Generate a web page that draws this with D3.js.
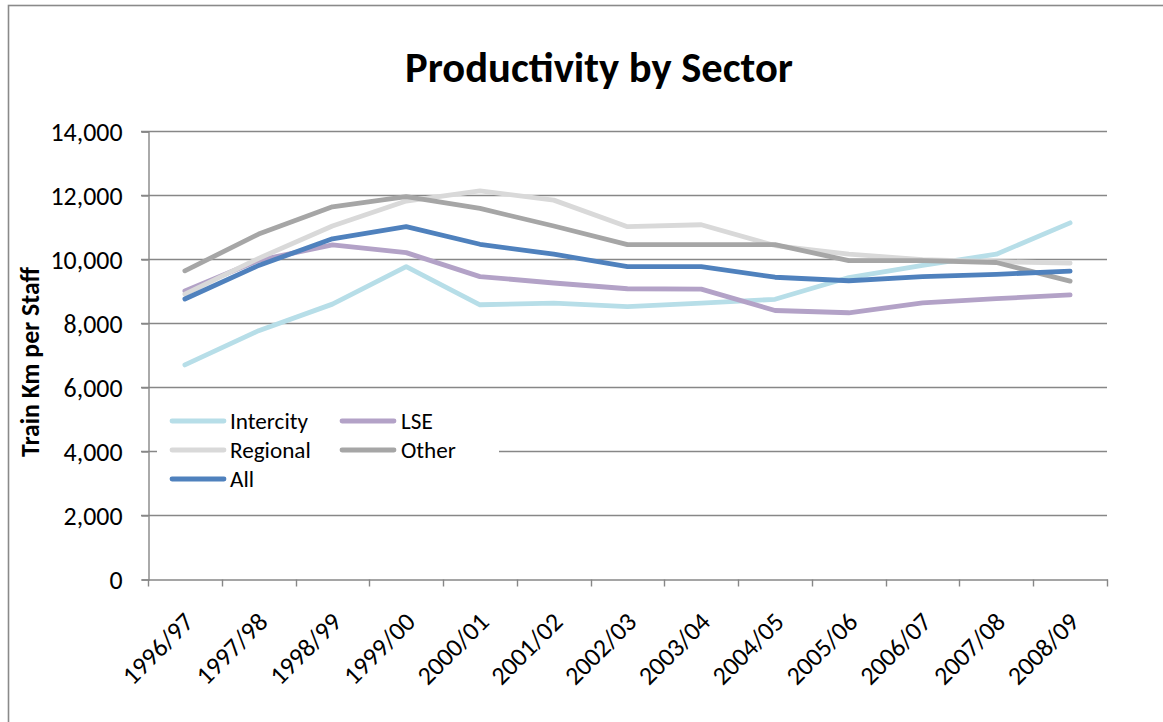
<!DOCTYPE html>
<html>
<head>
<meta charset="utf-8">
<script src="https://cdn.jsdelivr.net/npm/d3@7/dist/d3.min.js"></script>
<style>
  html, body { margin: 0; padding: 0; background: #fff; overflow: hidden; }
  svg { display: block; }
  text { font-family: Carlito, Lato, "Open Sans", sans-serif; fill: #000; }
</style>
</head>
<body>
<svg id="chart" width="1163" height="722"></svg>
<script>
const categories = ["1996/97","1997/98","1998/99","1999/00","2000/01","2001/02","2002/03","2003/04","2004/05","2005/06","2006/07","2007/08","2008/09"];
const intercity = [6690, 7760, 8590, 9760, 8570, 8620, 8510, 8620, 8740, 9420, 9800, 10150, 11130];
const lse       = [9000, 9960, 10440, 10200, 9450, 9250, 9070, 9060, 8390, 8320, 8630, 8760, 8880];
const regional  = [8900, 10020, 11030, 11810, 12130, 11840, 11010, 11070, 10420, 10150, 9980, 9920, 9870];
const other     = [9630, 10780, 11630, 11950, 11580, 11030, 10450, 10450, 10450, 9950, 9950, 9890, 9310];
const all       = [8750, 9800, 10630, 11010, 10460, 10150, 9760, 9760, 9430, 9320, 9450, 9520, 9620];
const seriesNames = ["Intercity","LSE","Regional","Other","All"];
const yTicks = [0, 2000, 4000, 6000, 8000, 10000, 12000, 14000];
const title = "Productivity by Sector";
const yTitle = "Train Km per Staff";

const colors = {Intercity:"#B7DEE8", LSE:"#B3A2C7", Regional:"#D9D9D9", Other:"#A6A6A6", All:"#4F81BD"};
const seriesData = {Intercity:intercity, LSE:lse, Regional:regional, Other:other, All:all};

const svg = d3.select("#chart");
const gridColor = "#878787";

// outer frame
svg.append("rect").attr("x", 8.5).attr("y", 5.5).attr("width", 1300).attr("height", 900)
  .attr("fill", "none").attr("stroke", "#8a8a8a").attr("stroke-width", 1.6);

const x = d3.scaleBand().domain(categories).range([148, 1107]);
const y = d3.scaleLinear().domain([0, 14000]).range([579, 131]);

function fit(sel, target) {
  const w = sel.node().getComputedTextLength();
  const fs = parseFloat(sel.attr("font-size"));
  sel.attr("font-size", (fs * target / w).toFixed(2));
  return fs * target / w;
}

// gridlines
svg.append("g").selectAll("line").data(yTicks.filter(d => d > 0)).join("line")
  .attr("x1", 141).attr("x2", 1107)
  .attr("y1", d => Math.round(y(d)) + 0.5).attr("y2", d => Math.round(y(d)) + 0.5)
  .attr("stroke", gridColor).attr("stroke-width", 1.4);

// y axis
const yAxis = svg.append("g").attr("transform", "translate(148.5,0.5)")
  .call(d3.axisLeft(y).tickValues(yTicks).tickFormat(d3.format(",")).tickSize(7).tickPadding(19));
yAxis.select(".domain").attr("stroke", gridColor).attr("stroke-width", 1.4);
yAxis.selectAll(".tick line").attr("stroke", gridColor).attr("stroke-width", 1.4);
yAxis.selectAll(".tick text").attr("font-family", null).attr("font-size", 22).attr("fill", "#000");
const tlab = yAxis.selectAll(".tick text").filter(d => d === 14000);
const yfs = fit(tlab, 72);
yAxis.selectAll(".tick text").attr("font-size", yfs.toFixed(2)).attr("dy", "0.34em");

// x axis
const xAxis = svg.append("g").attr("transform", "translate(0.5,579.5)")
  .call(d3.axisBottom(x).tickSize(0).tickFormat(d => d));
xAxis.select(".domain").attr("stroke", gridColor).attr("stroke-width", 1.4);
xAxis.append("g").selectAll("line").data(d3.range(categories.length + 1)).join("line")
  .attr("x1", i => Math.round(148 + i * x.step())).attr("x2", i => Math.round(148 + i * x.step()))
  .attr("y1", 0).attr("y2", 7).attr("stroke", gridColor).attr("stroke-width", 1.4);
xAxis.selectAll(".tick text")
  .attr("font-family", null).attr("font-size", yfs.toFixed(2)).attr("fill", "#000")
  .attr("text-anchor", "end").attr("y", 0).attr("dy", 0)
  .attr("transform", "translate(10,44) rotate(-45)");

// legend background
svg.append("rect").attr("x", 157).attr("y", 402).attr("width", 342).attr("height", 96).attr("fill", "#fff");

// lines
const line = d3.line().x((d, i) => x(categories[i]) + x.bandwidth() / 2).y(d => y(d));
svg.append("g").selectAll("path").data(seriesNames).join("path")
  .attr("d", n => line(seriesData[n]))
  .attr("fill", "none").attr("stroke", n => colors[n]).attr("stroke-width", 4.8)
  .attr("stroke-linejoin", "round").attr("stroke-linecap", "round");

// legend
const legendPos = [
  {name:"Intercity", lx:172, tx:230, y:421},
  {name:"LSE", lx:342, tx:401, y:421},
  {name:"Regional", lx:172, tx:230, y:450},
  {name:"Other", lx:342, tx:401, y:450},
  {name:"All", lx:172, tx:230, y:479}
];
const lg = svg.append("g");
lg.selectAll("line").data(legendPos).join("line")
  .attr("x1", d => d.lx).attr("x2", d => d.lx + 52).attr("y1", d => d.y).attr("y2", d => d.y)
  .attr("stroke", d => colors[d.name]).attr("stroke-width", 4.8).attr("stroke-linecap", "round");
const lt = lg.selectAll("text").data(legendPos).join("text")
  .attr("x", d => d.tx).attr("y", d => d.y).attr("dy", "0.35em")
  .attr("font-size", 22).text(d => d.name);
const lfs = fit(lt.filter(d => d.name === "Intercity"), 78);
lt.attr("font-size", lfs.toFixed(2));

// title
const tt = svg.append("text").attr("x", 599).attr("y", 82).attr("text-anchor", "middle")
  .attr("font-weight", "bold").attr("font-size", 38).text(title);
fit(tt, 388);

// y title
const yt = svg.append("text").attr("transform", "translate(39,362) rotate(-90)")
  .attr("text-anchor", "middle").attr("font-weight", "bold").attr("font-size", 22).text(yTitle);
fit(yt, 190);
</script>
</body>
</html>
